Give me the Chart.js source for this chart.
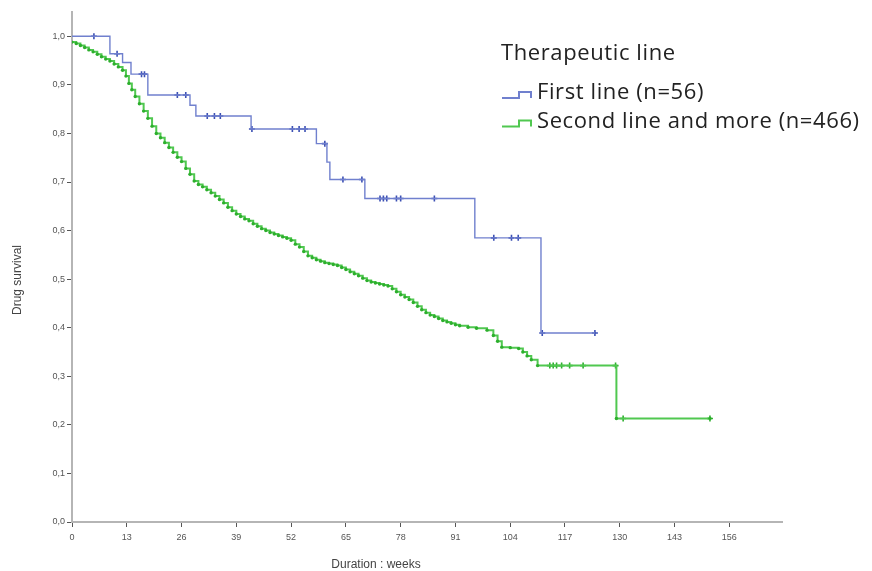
<!DOCTYPE html>
<html>
<head>
<meta charset="utf-8">
<script src="https://cdn.jsdelivr.net/npm/chart.js@4"></script>
<style>
  html, body { margin: 0; padding: 0; background: #fff; }
  #wrap { position: relative; width: 872px; height: 571px; }
</style>
</head>
<body>
<div id="wrap"><canvas id="c" width="872" height="571"></canvas></div>
<script>
// ---- data (weeks, survival proportion) ----
const seriesNames = ['First line (n=56)', 'Second line and more (n=466)'];
const legendTitle = 'Therapeutic line';
const xTitle = 'Duration : weeks';
const yTitle = 'Drug survival';

const firstTimes = [0, 9, 12, 14, 18, 28, 29.4, 42.5, 58, 60.5, 61.2, 69.5, 95.6, 111.3, 124.1];
const firstSurv  = [1.0, 0.964, 0.946, 0.922, 0.879, 0.858, 0.836, 0.809, 0.779, 0.741, 0.705, 0.666, 0.585, 0.389, 0.389];
const firstCensorTimes = [5.2, 10.7, 16.5, 17.2, 25, 27, 32.1, 33.8, 35.2, 42.7, 52.3, 53.9, 55.3, 60, 64.3, 68.8,
  73.1, 73.9, 74.7, 77, 78, 86, 100.1, 104.3, 105.9, 111.6, 124.1];

const secondTimes = [0, 1, 2, 3, 4, 5, 6, 7, 8, 9, 10, 11, 12, 12.8, 13.5, 14.2, 15, 16, 17, 18, 19, 20,
  21, 22, 23, 24, 25, 26, 27, 28, 29, 30, 31, 32, 33, 34, 35, 36, 37, 38, 39, 40, 41, 42, 43, 44, 45, 46,
  47, 48, 49, 50, 51, 52, 53, 54, 55, 56, 57, 58, 59, 60, 61, 62, 63, 64, 65, 66, 67, 68, 69, 70, 71, 72,
  73, 74, 75, 76, 77, 78, 79, 80, 81, 82, 83, 84, 85, 86, 87, 88, 89, 90, 91, 92, 94, 96, 98.5, 100, 101,
  102, 104, 106, 107, 108, 109, 110.5, 129.2, 151.4];
const secondSurv = [0.988, 0.985, 0.981, 0.977, 0.972, 0.968, 0.963, 0.958, 0.953, 0.949, 0.943, 0.937, 0.930,
  0.918, 0.903, 0.890, 0.876, 0.861, 0.846, 0.831, 0.815, 0.800, 0.791, 0.781, 0.771, 0.761, 0.751, 0.742,
  0.728, 0.716, 0.702, 0.695, 0.690, 0.684, 0.678, 0.671, 0.664, 0.657, 0.648, 0.641, 0.634, 0.629, 0.624,
  0.620, 0.614, 0.609, 0.604, 0.600, 0.596, 0.593, 0.590, 0.587, 0.584, 0.580, 0.572, 0.566, 0.557, 0.548,
  0.544, 0.540, 0.537, 0.534, 0.532, 0.530, 0.528, 0.524, 0.520, 0.515, 0.511, 0.507, 0.502, 0.497, 0.494,
  0.492, 0.490, 0.488, 0.486, 0.480, 0.474, 0.468, 0.463, 0.458, 0.452, 0.444, 0.437, 0.431, 0.426, 0.423,
  0.419, 0.415, 0.412, 0.409, 0.406, 0.404, 0.401, 0.399, 0.395, 0.384, 0.372, 0.360, 0.359, 0.357, 0.350,
  0.342, 0.334, 0.322, 0.213, 0.213];
const secondCensorTimes = [113.4, 114.2, 115, 116.2, 118.1, 121.3, 129, 130.8, 151.4];

const xTickValues = [0, 13, 26, 39, 52, 65, 78, 91, 104, 117, 130, 143, 156];
const yTickValues = [0, 0.1, 0.2, 0.3, 0.4, 0.5, 0.6, 0.7, 0.8, 0.9, 1.0];

// ---- helpers ----
function toPoints(ts, ss) { return ts.map((t, i) => ({ x: t, y: ss[i] })); }
function survAt(ts, ss, t) {
  let v = ss[0];
  for (let i = 0; i < ts.length; i++) { if (ts[i] <= t) v = ss[i]; }
  return v;
}
function censorPoints(cts, ts, ss) { return cts.map(t => ({ x: t, y: survAt(ts, ss, t) })); }

const BLUE_LINE = 'rgb(112,128,206)';
const BLUE_MARK = 'rgb(60,80,180)';
const GREEN_LINE = 'rgb(80,200,80)';
const GREEN_MARK = 'rgb(45,175,45)';
const LEGEND_FONT = '22px "Open Sans", "Noto Sans", sans-serif';

const legendPlugin = {
  id: 'kmLegend',
  afterDraw(chart) {
    const ctx = chart.ctx;
    ctx.save();
    ctx.fillStyle = '#222';
    ctx.textBaseline = 'alphabetic';
    ctx.textAlign = 'left';
    ctx.font = LEGEND_FONT;
    if ('letterSpacing' in ctx) ctx.letterSpacing = '0.6px';
    ctx.fillText(legendTitle, 501, 60);
    const colors = [BLUE_LINE, GREEN_LINE];
    seriesNames.forEach((name, i) => {
      const by = 98 + i * 28.5;
      ctx.strokeStyle = colors[i];
      ctx.lineWidth = 2;
      ctx.beginPath();
      ctx.moveTo(502, by); ctx.lineTo(519, by); ctx.lineTo(519, by - 6);
      ctx.lineTo(531, by - 6); ctx.lineTo(531, by);
      ctx.stroke();
      ctx.fillStyle = '#222';
      ctx.font = LEGEND_FONT;
      ctx.fillText(name, 537, by + 1);
    });
    if ('letterSpacing' in ctx) ctx.letterSpacing = '0px';
    // axis titles
    ctx.fillStyle = '#444';
    ctx.font = '12px "Liberation Sans", Arial, sans-serif';
    ctx.textAlign = 'center';
    ctx.textBaseline = 'middle';
    ctx.fillText(xTitle, 376, 565);
    ctx.translate(18, 280);
    ctx.rotate(-Math.PI / 2);
    ctx.fillText(yTitle, 0, 0);
    ctx.restore();
  }
};

new Chart(document.getElementById('c'), {
  type: 'line',
  data: {
    datasets: [
      { label: seriesNames[0], data: toPoints(firstTimes, firstSurv), stepped: true,
        borderColor: BLUE_LINE, borderWidth: 1.4, pointRadius: 0, fill: false },
      { label: seriesNames[0] + ' censored', data: censorPoints(firstCensorTimes, firstTimes, firstSurv),
        showLine: false, pointStyle: 'cross', pointRadius: 3, pointBorderWidth: 1.6,
        pointBorderColor: BLUE_MARK, pointBackgroundColor: BLUE_MARK },
      { label: seriesNames[1], data: toPoints(secondTimes, secondSurv), stepped: true,
        borderColor: GREEN_LINE, borderWidth: 2, pointRadius: 1.7, pointStyle: 'circle',
        pointBorderWidth: 0, pointBackgroundColor: GREEN_MARK, fill: false },
      { label: seriesNames[1] + ' censored', data: censorPoints(secondCensorTimes, secondTimes, secondSurv),
        showLine: false, pointStyle: 'cross', pointRadius: 3, pointBorderWidth: 1.6,
        pointBorderColor: GREEN_MARK, pointBackgroundColor: GREEN_MARK }
    ]
  },
  options: {
    responsive: false,
    animation: false,
    devicePixelRatio: 1,
    layout: { padding: { left: 0, top: 12, right: 90, bottom: 0 } },
    plugins: { legend: { display: false }, tooltip: { enabled: false } },
    scales: {
      x: {
        type: 'linear', min: 0, max: 168.5,
        afterBuildTicks(s) { s.ticks = xTickValues.map(v => ({ value: v })); },
        afterFit(s) { s.height = 49; },
        grid: { drawOnChartArea: false, drawTicks: true, tickLength: 5, color: '#555', lineWidth: 1 },
        border: { display: true, color: '#b5b5b5', width: 2 },
        ticks: { padding: 5, color: '#555', font: { size: 9, family: '"Liberation Sans", Arial, sans-serif' },
          maxRotation: 0, autoSkip: false }
      },
      y: {
        type: 'linear', min: 0, max: 1.05,
        afterBuildTicks(s) { s.ticks = yTickValues.map(v => ({ value: v })); },
        afterFit(s) { s.width = 72; },
        grid: { drawOnChartArea: false, drawTicks: true, tickLength: 5, color: '#555', lineWidth: 1 },
        border: { display: true, color: '#b5b5b5', width: 2 },
        ticks: { padding: 2, color: '#555', font: { size: 9, family: '"Liberation Sans", Arial, sans-serif' },
          callback: v => v.toFixed(1).replace('.', ','), autoSkip: false }
      }
    }
  },
  plugins: [legendPlugin]
});
</script>
</body>
</html>
